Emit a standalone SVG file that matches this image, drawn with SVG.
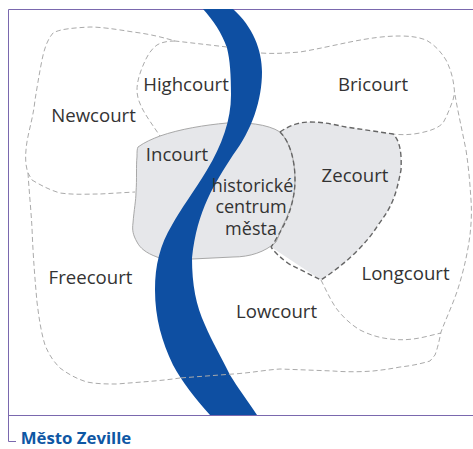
<svg xmlns="http://www.w3.org/2000/svg" width="473" height="449" viewBox="0 0 473 449">
<style>
text{font-family:"Open Sans","Noto Sans","Liberation Sans",sans-serif;font-size:18.6px;fill:#333;text-anchor:middle}
.c{font-size:18px}
.d{fill:none;stroke:#aaa;stroke-width:1;stroke-dasharray:5 3}
.z{fill:none;stroke:#666;stroke-width:1.4;stroke-dasharray:5 3}
.g{fill:#e6e7ea}
</style>
<rect width="473" height="449" fill="#fff"/>
<g id="frame" fill="none" stroke="#7a68ae" stroke-width="1"><path d="M473 9.500H8.500V441.500H16"/><path d="M8.500 415.500H473"/></g>
<g id="fills">
<path id="zecourt-area" class="g" d="M280 132C290 125 300 122 310 122C325 122 335 125 346 127L393 134C399 140 402 150 401 170C399 180 397 190 393 200C389 210 384 217 378 225C372 235 365 243 356 252C345 263 333 272 321 280L271 247L260 200L270 140Z"/>
<path id="incourt-area" class="g" stroke="#a8a8a8" d="M138 147C145 142 152 139 160 136C180 129 205 125 227 123C245 122 268 124 280 132C290 142 295 160 295 180C295 195 291 210 283 225C280 232 278 238 276 242C265 252 250 257 233 257L192 259C178 261 165 261 157 257C146 253 140 248 137 242C133 235 132 230 133 223C134 210 136 200 136 192C137 180 136 165 137 157C137 152 137 149 138 147Z"/>
</g>
<path id="river" fill="#0e4fa2" d="M203 9H233C253 27 262 50 262 72C262 100 252 130 233 155C215 183 197 210 192 258C192 285 196 305 205 325C212 342 222 358 230 375C238 388 247 400 257 415H210C195 398 182 382 173 365C162 342 155 318 155 290C155 265 160 245 172 225C180 210 195 190 207 170C222 145 231 120 231 95C231 75 230 60 227 48C222 33 213 20 203 9Z"/>
<g id="connectors">
<path class="d" d="M227 47L175 41C165 38 150 34 133 32C115 29 100 27 90 27C72 28 60 29 53 33C47 40 44 50 42 60C39 75 37 88 35 100C33 120 27 135 26 150C25 160 26 167 28 173L32 180C42 186 50 190 60 193C75 195 88 194 100 194L135 192"/>
<path class="d" d="M175 41C168 41 162 42 157 45C150 50 146 58 142 68C138 78 137 85 137 90C137 98 140 104 143 110C148 119 154 127 160 136"/>
<path class="d" d="M261 53C275 54 287 53 300 52C318 49 335 45 350 42C370 38 385 36 400 36C410 36 418 37 426 40C435 45 441 52 446 60C451 70 453 78 454 87C455 92 454 96 453 100C450 108 447 116 443 123C437 129 429 131 420 133C410 135 400 135 393 134"/>
<path class="d" d="M455 95C458 112 462 130 466 150C469 170 470 185 471 200C472 215 471 225 470 235C468 250 465 265 460 282C455 300 447 316 441 332C439 342 437 350 435 355L430 361C420 364 410 366 400 367C390 369 382 370 373 371C360 372 345 372 333 371L280 369C265 370 250 373 233 374L180 378"/>
<path class="d" d="M28 173C29 190 31 210 32 228C33 255 35 280 37 302C39 318 41 332 45 345C49 355 54 362 60 368C68 374 77 379 87 382C97 384 107 384 117 384C140 382 160 381 180 378"/>
<path class="d" d="M321 280C326 290 330 299 336 308C342 316 350 324 360 330C370 335 380 338 390 339C398 340 405 340 413 339C422 338 432 335 441 333"/>
<path class="z" d="M280 132C290 125 300 122 310 122C325 122 335 125 346 127L393 134C399 140 402 150 401 170C399 180 397 190 393 200C389 210 384 217 378 225C372 235 365 243 356 252C345 263 333 272 321 280L289 264C281 258 275 253 271 247"/>
<path class="z" d="M280 132C290 142 295 160 295 180C295 195 291 210 285 223C280 232 276 240 271 247"/>
</g>
<g id="labels">
<text x="93.500" y="122">Newcourt</text>
<text x="186" y="91">Highcourt</text>
<text x="373" y="91">Bricourt</text>
<text x="177" y="161">Incourt</text>
<text x="355" y="182">Zecourt</text>
<text class="c" x="252.500" y="192">historické</text>
<text class="c" x="251" y="213">centrum</text>
<text class="c" x="251" y="235">města</text>
<text x="90.500" y="284">Freecourt</text>
<text x="405.500" y="280">Longcourt</text>
<text x="276.500" y="318">Lowcourt</text>
<text x="76" y="444" style="font-weight:700;font-size:16.800px;fill:#0e57a4">Město Zeville</text>
</g>
</svg>
